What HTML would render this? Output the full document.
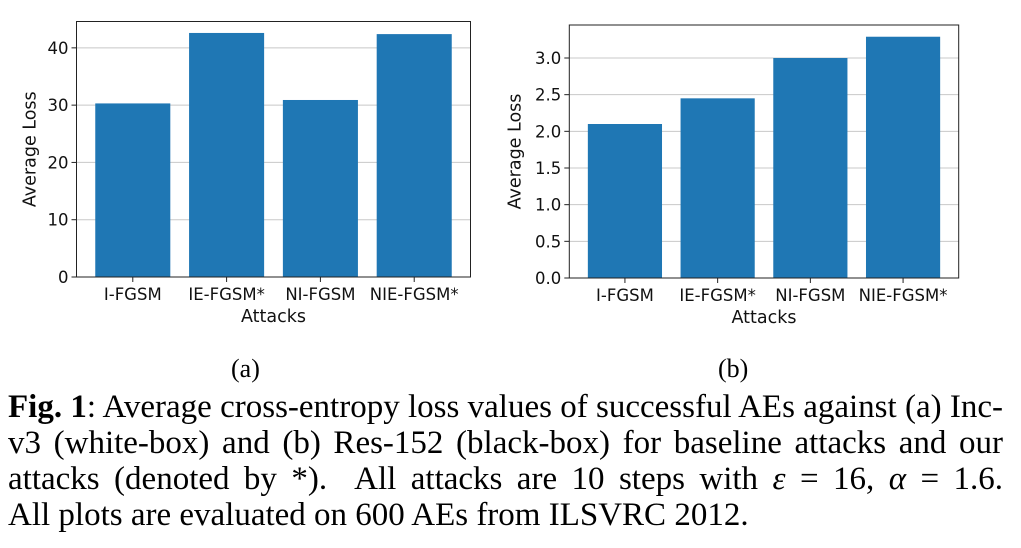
<!DOCTYPE html>
<html><head><meta charset="utf-8"><style>
body{margin:0;width:1021px;height:548px;background:#fff;overflow:hidden;position:relative}
svg{position:absolute;left:0;top:0}
.cap{position:absolute;left:8px;width:995px;font-family:"Liberation Serif",serif;font-size:33px;line-height:36px;color:#000;white-space:nowrap}
.j{text-align:justify;text-align-last:justify;white-space:normal}
.sub{position:absolute;font-family:"Liberation Serif",serif;font-size:26px;top:354px}
</style></head><body>
<svg id="chart" width="1021" height="340" xmlns="http://www.w3.org/2000/svg"></svg>
<div class="sub" style="left:231px">(a)</div>
<div class="sub" style="left:718px">(b)</div>
<div class="cap j" style="top:389px"><b>Fig. 1</b>: Average cross-entropy loss values of successful AEs against (a) Inc-</div>
<div class="cap j" style="top:425px">v3 (white-box) and (b) Res-152 (black-box) for baseline attacks and our</div>
<div class="cap j" style="top:461px">attacks (denoted by *).&nbsp; All attacks are 10 steps with <i>ε</i> = 16, <i>α</i> = 1.6.</div>
<div class="cap" style="top:497px">All plots are evaluated on 600 AEs from ILSVRC 2012.</div>
<script>
const categories = ["I-FGSM","IE-FGSM*","NI-FGSM","NIE-FGSM*"];
const lossWhiteBox = [30.3, 42.6, 30.9, 42.4];
const lossBlackBox = [2.1, 2.45, 3.0, 3.29];
const ticksA = [0,10,20,30,40];
const tickLabelsA = ["0","10","20","30","40"];
const ticksB = [0,0.5,1,1.5,2,2.5,3];
const tickLabelsB = ["0.0","0.5","1.0","1.5","2.0","2.5","3.0"];
const NS="http://www.w3.org/2000/svg";
const svg=document.getElementById('chart');
function mk(tag,attrs,parent){const e=document.createElementNS(NS,tag);for(const k in attrs)e.setAttribute(k,attrs[k]);(parent||svg).appendChild(e);return e;}
function drawChart(id,x0,x1,y0,y1,ymax,vals,ticks,labels){
  const g=mk('g',{});
  
  
  const ys=v=>y1-(v/ymax)*(y1-y0);
  const xs=i=>x0+(i+0.6)/4.2*(x1-x0);
  const bw=0.8/4.2*(x1-x0);
  ticks.forEach((t,i)=>{
    const y=ys(t);
    const gl=mk('line',{x1:x0,x2:x1,y1:y,y2:y,stroke:'#c8c8c8','stroke-width':1},g);
    
    
    mk('line',{x1:x0-5,x2:x0,y1:y,y2:y,stroke:'#222','stroke-width':1},g);
    const tx=mk('text',{x:x0-8,y:y+6,'text-anchor':'end','font-family':'DejaVu Sans,sans-serif','font-size':16.5,fill:'#111'},g);
    tx.textContent=labels[i];
    
    
  });
  vals.forEach((v,i)=>{
    const r=mk('rect',{x:xs(i)-bw/2,y:ys(v),width:bw,height:y1-ys(v),fill:'#1f77b4'},g);
    
    
    mk('line',{x1:xs(i),x2:xs(i),y1:y1,y2:y1+5,stroke:'#222'},g);
    const tx=mk('text',{x:xs(i),y:y1+23,'text-anchor':'middle','font-family':'DejaVu Sans,sans-serif','font-size':16.5,fill:'#111'},g);
    tx.textContent=categories[i];
    
    
  });
  const fr=mk('rect',{x:x0,y:y0,width:x1-x0,height:y1-y0,fill:'none',stroke:'#222','stroke-width':1},g);
  
  
  const xl=mk('text',{x:(x0+x1)/2,y:y1+45,'text-anchor':'middle','font-family':'DejaVu Sans,sans-serif','font-size':17.5,fill:'#111'},g);
  xl.textContent='Attacks';
  
  
  const cy=(y0+y1)/2, cx=x0-(id==='a'?41:49);
  const yl=mk('text',{x:cx,y:cy,'text-anchor':'middle','font-family':'DejaVu Sans,sans-serif','font-size':17.5,fill:'#111',transform:`rotate(-90 ${cx} ${cy})`},g);
  yl.textContent='Average Loss';
  
  
}
drawChart('a',76.5,470.5,21.5,277,44.6,lossWhiteBox,ticksA,tickLabelsA);
drawChart('b',569.3,958.7,25,278,3.45,lossBlackBox,ticksB,tickLabelsB);
</script>
</body></html>
